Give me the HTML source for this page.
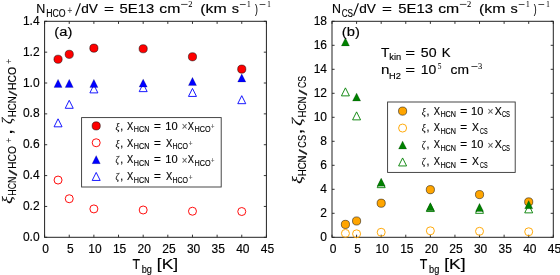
<!DOCTYPE html>
<html><head><meta charset="utf-8"><style>
html,body{margin:0;padding:0;background:#fff;width:560px;height:275px;overflow:hidden;}
svg{display:block;will-change:transform;}
</style></head><body>
<svg width="560" height="275" viewBox="0 0 560 275">
<style>text{font-family:"Liberation Sans",sans-serif;stroke:#000;stroke-width:0.15px;} .tk{stroke:#000;stroke-width:0.8;}</style>
<rect width="560" height="275" fill="#fff"/>
<line x1="44.60" y1="237.3" x2="44.60" y2="234.70000000000002" class="tk"/>
<line x1="44.60" y1="21.3" x2="44.60" y2="23.900000000000002" class="tk"/>
<text x="45.70" y="252.60" font-size="12" text-anchor="middle" fill="#000">0</text>
<line x1="69.24" y1="237.3" x2="69.24" y2="234.70000000000002" class="tk"/>
<line x1="69.24" y1="21.3" x2="69.24" y2="23.900000000000002" class="tk"/>
<text x="70.34" y="252.60" font-size="12" text-anchor="middle" fill="#000">5</text>
<line x1="93.89" y1="237.3" x2="93.89" y2="234.70000000000002" class="tk"/>
<line x1="93.89" y1="21.3" x2="93.89" y2="23.900000000000002" class="tk"/>
<text x="94.99" y="252.60" font-size="12" text-anchor="middle" fill="#000">10</text>
<line x1="118.53" y1="237.3" x2="118.53" y2="234.70000000000002" class="tk"/>
<line x1="118.53" y1="21.3" x2="118.53" y2="23.900000000000002" class="tk"/>
<text x="119.63" y="252.60" font-size="12" text-anchor="middle" fill="#000">15</text>
<line x1="143.18" y1="237.3" x2="143.18" y2="234.70000000000002" class="tk"/>
<line x1="143.18" y1="21.3" x2="143.18" y2="23.900000000000002" class="tk"/>
<text x="144.28" y="252.60" font-size="12" text-anchor="middle" fill="#000">20</text>
<line x1="167.82" y1="237.3" x2="167.82" y2="234.70000000000002" class="tk"/>
<line x1="167.82" y1="21.3" x2="167.82" y2="23.900000000000002" class="tk"/>
<text x="168.92" y="252.60" font-size="12" text-anchor="middle" fill="#000">25</text>
<line x1="192.47" y1="237.3" x2="192.47" y2="234.70000000000002" class="tk"/>
<line x1="192.47" y1="21.3" x2="192.47" y2="23.900000000000002" class="tk"/>
<text x="193.57" y="252.60" font-size="12" text-anchor="middle" fill="#000">30</text>
<line x1="217.11" y1="237.3" x2="217.11" y2="234.70000000000002" class="tk"/>
<line x1="217.11" y1="21.3" x2="217.11" y2="23.900000000000002" class="tk"/>
<text x="218.21" y="252.60" font-size="12" text-anchor="middle" fill="#000">35</text>
<line x1="241.76" y1="237.3" x2="241.76" y2="234.70000000000002" class="tk"/>
<line x1="241.76" y1="21.3" x2="241.76" y2="23.900000000000002" class="tk"/>
<text x="242.86" y="252.60" font-size="12" text-anchor="middle" fill="#000">40</text>
<line x1="266.40" y1="237.3" x2="266.40" y2="234.70000000000002" class="tk"/>
<line x1="266.40" y1="21.3" x2="266.40" y2="23.900000000000002" class="tk"/>
<text x="267.50" y="252.60" font-size="12" text-anchor="middle" fill="#000">45</text>
<line x1="44.6" y1="237.30" x2="47.2" y2="237.30" class="tk"/>
<line x1="266.4" y1="237.30" x2="263.79999999999995" y2="237.30" class="tk"/>
<text x="39.60" y="240.80" font-size="12" text-anchor="end" fill="#000">0.0</text>
<line x1="44.6" y1="206.44" x2="47.2" y2="206.44" class="tk"/>
<line x1="266.4" y1="206.44" x2="263.79999999999995" y2="206.44" class="tk"/>
<text x="39.60" y="209.94" font-size="12" text-anchor="end" fill="#000">0.2</text>
<line x1="44.6" y1="175.59" x2="47.2" y2="175.59" class="tk"/>
<line x1="266.4" y1="175.59" x2="263.79999999999995" y2="175.59" class="tk"/>
<text x="39.60" y="179.09" font-size="12" text-anchor="end" fill="#000">0.4</text>
<line x1="44.6" y1="144.73" x2="47.2" y2="144.73" class="tk"/>
<line x1="266.4" y1="144.73" x2="263.79999999999995" y2="144.73" class="tk"/>
<text x="39.60" y="148.23" font-size="12" text-anchor="end" fill="#000">0.6</text>
<line x1="44.6" y1="113.87" x2="47.2" y2="113.87" class="tk"/>
<line x1="266.4" y1="113.87" x2="263.79999999999995" y2="113.87" class="tk"/>
<text x="39.60" y="117.37" font-size="12" text-anchor="end" fill="#000">0.8</text>
<line x1="44.6" y1="83.01" x2="47.2" y2="83.01" class="tk"/>
<line x1="266.4" y1="83.01" x2="263.79999999999995" y2="83.01" class="tk"/>
<text x="39.60" y="86.51" font-size="12" text-anchor="end" fill="#000">1.0</text>
<line x1="44.6" y1="52.16" x2="47.2" y2="52.16" class="tk"/>
<line x1="266.4" y1="52.16" x2="263.79999999999995" y2="52.16" class="tk"/>
<text x="39.60" y="55.66" font-size="12" text-anchor="end" fill="#000">1.2</text>
<line x1="44.6" y1="21.30" x2="47.2" y2="21.30" class="tk"/>
<line x1="266.4" y1="21.30" x2="263.79999999999995" y2="21.30" class="tk"/>
<text x="39.60" y="24.80" font-size="12" text-anchor="end" fill="#000">1.4</text>
<rect x="44.6" y="21.3" width="221.80" height="216.00" fill="none" stroke="#222" stroke-width="1.0"/>
<path d="M58.06,118.82 L54.06,126.82 L62.06,126.82 Z" fill="none" stroke="#0000ff" stroke-width="0.9" stroke-linejoin="miter"/>
<path d="M69.24,100.31 L65.24,108.31 L73.24,108.31 Z" fill="none" stroke="#0000ff" stroke-width="0.9" stroke-linejoin="miter"/>
<path d="M93.89,84.88 L89.89,92.88 L97.89,92.88 Z" fill="none" stroke="#0000ff" stroke-width="0.9" stroke-linejoin="miter"/>
<path d="M143.18,83.64 L139.18,91.64 L147.18,91.64 Z" fill="none" stroke="#0000ff" stroke-width="0.9" stroke-linejoin="miter"/>
<path d="M192.47,88.43 L188.47,96.43 L196.47,96.43 Z" fill="none" stroke="#0000ff" stroke-width="0.9" stroke-linejoin="miter"/>
<path d="M241.76,95.68 L237.76,103.68 L245.76,103.68 Z" fill="none" stroke="#0000ff" stroke-width="0.9" stroke-linejoin="miter"/>
<circle cx="58.06" cy="180.06" r="3.9999999999999996" fill="none" stroke="#ff0000" stroke-width="0.95"/>
<circle cx="69.24" cy="198.73" r="3.9999999999999996" fill="none" stroke="#ff0000" stroke-width="0.95"/>
<circle cx="93.89" cy="208.91" r="3.9999999999999996" fill="none" stroke="#ff0000" stroke-width="0.95"/>
<circle cx="143.18" cy="209.99" r="3.9999999999999996" fill="none" stroke="#ff0000" stroke-width="0.95"/>
<circle cx="192.47" cy="211.23" r="3.9999999999999996" fill="none" stroke="#ff0000" stroke-width="0.95"/>
<circle cx="241.76" cy="211.53" r="3.9999999999999996" fill="none" stroke="#ff0000" stroke-width="0.95"/>
<circle cx="58.06" cy="59.25" r="4.1" fill="#ff0000" stroke="#000" stroke-width="0.5"/>
<circle cx="69.24" cy="54.32" r="4.1" fill="#ff0000" stroke="#000" stroke-width="0.5"/>
<circle cx="93.89" cy="48.15" r="4.1" fill="#ff0000" stroke="#000" stroke-width="0.5"/>
<circle cx="143.18" cy="48.76" r="4.1" fill="#ff0000" stroke="#000" stroke-width="0.5"/>
<circle cx="192.47" cy="56.79" r="4.1" fill="#ff0000" stroke="#000" stroke-width="0.5"/>
<circle cx="241.76" cy="69.13" r="4.1" fill="#ff0000" stroke="#000" stroke-width="0.5"/>
<path d="M58.06,79.22 L53.96,87.42 L62.16,87.42 Z" fill="#0000ff" stroke="#000" stroke-width="0.3" stroke-opacity="0.5"/>
<path d="M69.24,79.22 L65.14,87.42 L73.34,87.42 Z" fill="#0000ff" stroke="#000" stroke-width="0.3" stroke-opacity="0.5"/>
<path d="M93.89,79.22 L89.79,87.42 L97.99,87.42 Z" fill="#0000ff" stroke="#000" stroke-width="0.3" stroke-opacity="0.5"/>
<path d="M143.18,78.91 L139.08,87.11 L147.28,87.11 Z" fill="#0000ff" stroke="#000" stroke-width="0.3" stroke-opacity="0.5"/>
<path d="M192.47,77.37 L188.37,85.57 L196.57,85.57 Z" fill="#0000ff" stroke="#000" stroke-width="0.3" stroke-opacity="0.5"/>
<path d="M241.76,73.82 L237.66,82.02 L245.86,82.02 Z" fill="#0000ff" stroke="#000" stroke-width="0.3" stroke-opacity="0.5"/>
<line x1="332.00" y1="237.3" x2="332.00" y2="234.70000000000002" class="tk"/>
<line x1="332.00" y1="21.3" x2="332.00" y2="23.900000000000002" class="tk"/>
<text x="333.10" y="252.60" font-size="12" text-anchor="middle" fill="#000">0</text>
<line x1="356.59" y1="237.3" x2="356.59" y2="234.70000000000002" class="tk"/>
<line x1="356.59" y1="21.3" x2="356.59" y2="23.900000000000002" class="tk"/>
<text x="357.69" y="252.60" font-size="12" text-anchor="middle" fill="#000">5</text>
<line x1="381.18" y1="237.3" x2="381.18" y2="234.70000000000002" class="tk"/>
<line x1="381.18" y1="21.3" x2="381.18" y2="23.900000000000002" class="tk"/>
<text x="382.28" y="252.60" font-size="12" text-anchor="middle" fill="#000">10</text>
<line x1="405.77" y1="237.3" x2="405.77" y2="234.70000000000002" class="tk"/>
<line x1="405.77" y1="21.3" x2="405.77" y2="23.900000000000002" class="tk"/>
<text x="406.87" y="252.60" font-size="12" text-anchor="middle" fill="#000">15</text>
<line x1="430.36" y1="237.3" x2="430.36" y2="234.70000000000002" class="tk"/>
<line x1="430.36" y1="21.3" x2="430.36" y2="23.900000000000002" class="tk"/>
<text x="431.46" y="252.60" font-size="12" text-anchor="middle" fill="#000">20</text>
<line x1="454.94" y1="237.3" x2="454.94" y2="234.70000000000002" class="tk"/>
<line x1="454.94" y1="21.3" x2="454.94" y2="23.900000000000002" class="tk"/>
<text x="456.04" y="252.60" font-size="12" text-anchor="middle" fill="#000">25</text>
<line x1="479.53" y1="237.3" x2="479.53" y2="234.70000000000002" class="tk"/>
<line x1="479.53" y1="21.3" x2="479.53" y2="23.900000000000002" class="tk"/>
<text x="480.63" y="252.60" font-size="12" text-anchor="middle" fill="#000">30</text>
<line x1="504.12" y1="237.3" x2="504.12" y2="234.70000000000002" class="tk"/>
<line x1="504.12" y1="21.3" x2="504.12" y2="23.900000000000002" class="tk"/>
<text x="505.22" y="252.60" font-size="12" text-anchor="middle" fill="#000">35</text>
<line x1="528.71" y1="237.3" x2="528.71" y2="234.70000000000002" class="tk"/>
<line x1="528.71" y1="21.3" x2="528.71" y2="23.900000000000002" class="tk"/>
<text x="529.81" y="252.60" font-size="12" text-anchor="middle" fill="#000">40</text>
<line x1="553.30" y1="237.3" x2="553.30" y2="234.70000000000002" class="tk"/>
<line x1="553.30" y1="21.3" x2="553.30" y2="23.900000000000002" class="tk"/>
<text x="554.40" y="252.60" font-size="12" text-anchor="middle" fill="#000">45</text>
<line x1="332.0" y1="237.30" x2="334.6" y2="237.30" class="tk"/>
<line x1="553.3" y1="237.30" x2="550.6999999999999" y2="237.30" class="tk"/>
<text x="327.00" y="240.80" font-size="12" text-anchor="end" fill="#000">0</text>
<line x1="332.0" y1="213.30" x2="334.6" y2="213.30" class="tk"/>
<line x1="553.3" y1="213.30" x2="550.6999999999999" y2="213.30" class="tk"/>
<text x="327.00" y="216.80" font-size="12" text-anchor="end" fill="#000">2</text>
<line x1="332.0" y1="189.30" x2="334.6" y2="189.30" class="tk"/>
<line x1="553.3" y1="189.30" x2="550.6999999999999" y2="189.30" class="tk"/>
<text x="327.00" y="192.80" font-size="12" text-anchor="end" fill="#000">4</text>
<line x1="332.0" y1="165.30" x2="334.6" y2="165.30" class="tk"/>
<line x1="553.3" y1="165.30" x2="550.6999999999999" y2="165.30" class="tk"/>
<text x="327.00" y="168.80" font-size="12" text-anchor="end" fill="#000">6</text>
<line x1="332.0" y1="141.30" x2="334.6" y2="141.30" class="tk"/>
<line x1="553.3" y1="141.30" x2="550.6999999999999" y2="141.30" class="tk"/>
<text x="327.00" y="144.80" font-size="12" text-anchor="end" fill="#000">8</text>
<line x1="332.0" y1="117.30" x2="334.6" y2="117.30" class="tk"/>
<line x1="553.3" y1="117.30" x2="550.6999999999999" y2="117.30" class="tk"/>
<text x="327.00" y="120.80" font-size="12" text-anchor="end" fill="#000">10</text>
<line x1="332.0" y1="93.30" x2="334.6" y2="93.30" class="tk"/>
<line x1="553.3" y1="93.30" x2="550.6999999999999" y2="93.30" class="tk"/>
<text x="327.00" y="96.80" font-size="12" text-anchor="end" fill="#000">12</text>
<line x1="332.0" y1="69.30" x2="334.6" y2="69.30" class="tk"/>
<line x1="553.3" y1="69.30" x2="550.6999999999999" y2="69.30" class="tk"/>
<text x="327.00" y="72.80" font-size="12" text-anchor="end" fill="#000">14</text>
<line x1="332.0" y1="45.30" x2="334.6" y2="45.30" class="tk"/>
<line x1="553.3" y1="45.30" x2="550.6999999999999" y2="45.30" class="tk"/>
<text x="327.00" y="48.80" font-size="12" text-anchor="end" fill="#000">16</text>
<line x1="332.0" y1="21.30" x2="334.6" y2="21.30" class="tk"/>
<line x1="553.3" y1="21.30" x2="550.6999999999999" y2="21.30" class="tk"/>
<text x="327.00" y="24.80" font-size="12" text-anchor="end" fill="#000">18</text>
<rect x="332.0" y="21.3" width="221.30" height="216.00" fill="none" stroke="#222" stroke-width="1.0"/>
<circle cx="345.43" cy="233.40" r="3.9999999999999996" fill="none" stroke="#ffa500" stroke-width="0.95"/>
<circle cx="356.59" cy="233.82" r="3.9999999999999996" fill="none" stroke="#ffa500" stroke-width="0.95"/>
<circle cx="381.18" cy="232.26" r="3.9999999999999996" fill="none" stroke="#ffa500" stroke-width="0.95"/>
<circle cx="430.36" cy="230.82" r="3.9999999999999996" fill="none" stroke="#ffa500" stroke-width="0.95"/>
<circle cx="479.53" cy="231.30" r="3.9999999999999996" fill="none" stroke="#ffa500" stroke-width="0.95"/>
<circle cx="528.71" cy="231.78" r="3.9999999999999996" fill="none" stroke="#ffa500" stroke-width="0.95"/>
<path d="M345.43,87.86 L341.43,95.86 L349.43,95.86 Z" fill="none" stroke="#008000" stroke-width="0.9" stroke-linejoin="miter"/>
<path d="M356.59,111.86 L352.59,119.86 L360.59,119.86 Z" fill="none" stroke="#008000" stroke-width="0.9" stroke-linejoin="miter"/>
<path d="M381.18,179.66 L377.18,187.66 L385.18,187.66 Z" fill="none" stroke="#008000" stroke-width="0.9" stroke-linejoin="miter"/>
<path d="M430.36,203.54 L426.36,211.54 L434.36,211.54 Z" fill="none" stroke="#008000" stroke-width="0.9" stroke-linejoin="miter"/>
<path d="M479.53,205.34 L475.53,213.34 L483.53,213.34 Z" fill="none" stroke="#008000" stroke-width="0.9" stroke-linejoin="miter"/>
<path d="M528.71,204.86 L524.71,212.86 L532.71,212.86 Z" fill="none" stroke="#008000" stroke-width="0.9" stroke-linejoin="miter"/>
<circle cx="345.43" cy="224.40" r="4.1" fill="#ffa500" stroke="#000" stroke-width="0.5"/>
<circle cx="356.59" cy="220.98" r="4.1" fill="#ffa500" stroke="#000" stroke-width="0.5"/>
<circle cx="381.18" cy="203.22" r="4.1" fill="#ffa500" stroke="#000" stroke-width="0.5"/>
<circle cx="430.36" cy="189.66" r="4.1" fill="#ffa500" stroke="#000" stroke-width="0.5"/>
<circle cx="479.53" cy="194.58" r="4.1" fill="#ffa500" stroke="#000" stroke-width="0.5"/>
<circle cx="528.71" cy="201.90" r="4.1" fill="#ffa500" stroke="#000" stroke-width="0.5"/>
<path d="M345.43,37.72 L341.33,45.92 L349.53,45.92 Z" fill="#008000" stroke="#000" stroke-width="0.3" stroke-opacity="0.5"/>
<path d="M356.59,92.92 L352.49,101.12 L360.69,101.12 Z" fill="#008000" stroke="#000" stroke-width="0.3" stroke-opacity="0.5"/>
<path d="M381.18,178.00 L377.08,186.20 L385.28,186.20 Z" fill="#008000" stroke="#000" stroke-width="0.3" stroke-opacity="0.5"/>
<path d="M430.36,202.60 L426.26,210.80 L434.46,210.80 Z" fill="#008000" stroke="#000" stroke-width="0.3" stroke-opacity="0.5"/>
<path d="M479.53,203.32 L475.43,211.52 L483.63,211.52 Z" fill="#008000" stroke="#000" stroke-width="0.3" stroke-opacity="0.5"/>
<path d="M528.71,200.56 L524.61,208.76 L532.81,208.76 Z" fill="#008000" stroke="#000" stroke-width="0.3" stroke-opacity="0.5"/>
<text x="36.24" y="12.50" font-size="13" textLength="9.02" lengthAdjust="spacingAndGlyphs">N</text>
<text x="46.15" y="16.80" font-size="10" textLength="19.38" lengthAdjust="spacingAndGlyphs">HCO</text>
<text x="67.60" y="13.60" font-size="10" textLength="4.67" lengthAdjust="spacingAndGlyphs" fill="#555" style="stroke:#555">+</text>
<text x="81.18" y="12.50" font-size="13" textLength="16.69" lengthAdjust="spacingAndGlyphs">dV</text>
<text x="103.95" y="12.50" font-size="13" textLength="9.93" lengthAdjust="spacingAndGlyphs">=</text>
<text x="119.53" y="12.50" font-size="13" textLength="34.63" lengthAdjust="spacingAndGlyphs">5E13</text>
<text x="159.39" y="12.50" font-size="13" textLength="21.03" lengthAdjust="spacingAndGlyphs">cm</text>
<text x="188.34" y="6.80" font-size="8" textLength="4.23" lengthAdjust="spacingAndGlyphs" style="font-family:'Liberation Serif',serif;stroke-width:0.05px">2</text>
<text x="200.19" y="12.50" font-size="13" textLength="26.44" lengthAdjust="spacingAndGlyphs">(km</text>
<text x="231.72" y="12.50" font-size="13" textLength="7.23" lengthAdjust="spacingAndGlyphs">s</text>
<text x="247.12" y="6.60" font-size="8" textLength="3.64" lengthAdjust="spacingAndGlyphs" style="font-family:'Liberation Serif',serif;stroke-width:0.05px">1</text>
<text x="255.00" y="12.50" font-size="13" textLength="2.85" lengthAdjust="spacingAndGlyphs">)</text>
<text x="267.35" y="6.60" font-size="8" textLength="3.49" lengthAdjust="spacingAndGlyphs" style="font-family:'Liberation Serif',serif;stroke-width:0.05px">1</text>
<text x="332.10" y="12.50" font-size="13" textLength="8.95" lengthAdjust="spacingAndGlyphs">N</text>
<text x="341.64" y="16.80" font-size="10" textLength="11.39" lengthAdjust="spacingAndGlyphs">CS</text>
<text x="359.18" y="12.50" font-size="13" textLength="16.69" lengthAdjust="spacingAndGlyphs">dV</text>
<text x="381.95" y="12.50" font-size="13" textLength="9.93" lengthAdjust="spacingAndGlyphs">=</text>
<text x="398.33" y="12.50" font-size="13" textLength="34.63" lengthAdjust="spacingAndGlyphs">5E13</text>
<text x="438.19" y="12.50" font-size="13" textLength="21.03" lengthAdjust="spacingAndGlyphs">cm</text>
<text x="467.14" y="6.80" font-size="8" textLength="4.23" lengthAdjust="spacingAndGlyphs" style="font-family:'Liberation Serif',serif;stroke-width:0.05px">2</text>
<text x="478.99" y="12.50" font-size="13" textLength="26.44" lengthAdjust="spacingAndGlyphs">(km</text>
<text x="510.52" y="12.50" font-size="13" textLength="7.23" lengthAdjust="spacingAndGlyphs">s</text>
<text x="525.92" y="6.60" font-size="8" textLength="3.64" lengthAdjust="spacingAndGlyphs" style="font-family:'Liberation Serif',serif;stroke-width:0.05px">1</text>
<text x="533.80" y="12.50" font-size="13" textLength="2.85" lengthAdjust="spacingAndGlyphs">)</text>
<text x="546.15" y="6.60" font-size="8" textLength="3.49" lengthAdjust="spacingAndGlyphs" style="font-family:'Liberation Serif',serif;stroke-width:0.05px">1</text>
<text x="54.32" y="35.60" font-size="12.5" textLength="18.00" lengthAdjust="spacingAndGlyphs">(a)</text>
<text x="341.82" y="35.80" font-size="12.5" textLength="18.00" lengthAdjust="spacingAndGlyphs">(b)</text>
<text x="381.14" y="57.00" font-size="13" textLength="8.38" lengthAdjust="spacingAndGlyphs">T</text>
<text x="389.39" y="60.40" font-size="9" textLength="11.84" lengthAdjust="spacingAndGlyphs">kin</text>
<text x="405.35" y="57.00" font-size="13" textLength="9.81" lengthAdjust="spacingAndGlyphs">=</text>
<text x="420.86" y="57.00" font-size="13" textLength="15.75" lengthAdjust="spacingAndGlyphs">50</text>
<text x="441.79" y="57.00" font-size="13" textLength="8.79" lengthAdjust="spacingAndGlyphs">K</text>
<text x="381.13" y="74.30" font-size="13" textLength="8.43" lengthAdjust="spacingAndGlyphs">n</text>
<text x="389.13" y="78.60" font-size="9" textLength="11.84" lengthAdjust="spacingAndGlyphs">H2</text>
<text x="405.35" y="74.30" font-size="13" textLength="9.81" lengthAdjust="spacingAndGlyphs">=</text>
<text x="420.82" y="74.30" font-size="13" textLength="15.58" lengthAdjust="spacingAndGlyphs">10</text>
<text x="437.84" y="68.90" font-size="8" textLength="3.69" lengthAdjust="spacingAndGlyphs" style="font-family:'Liberation Serif',serif;stroke-width:0.05px">5</text>
<text x="450.47" y="74.30" font-size="13" textLength="18.43" lengthAdjust="spacingAndGlyphs">cm</text>
<text x="478.04" y="69.00" font-size="8" textLength="4.23" lengthAdjust="spacingAndGlyphs" style="font-family:'Liberation Serif',serif;stroke-width:0.05px">3</text>
<text x="132.50" y="269.20" font-size="15.5" textLength="7.57" lengthAdjust="spacingAndGlyphs">T</text>
<text x="141.76" y="272.90" font-size="10.5" textLength="10.24" lengthAdjust="spacingAndGlyphs">bg</text>
<text x="156.84" y="269.00" font-size="15" textLength="21.34" lengthAdjust="spacingAndGlyphs">[K]</text>
<text x="419.85" y="269.20" font-size="15.5" textLength="7.57" lengthAdjust="spacingAndGlyphs">T</text>
<text x="429.11" y="272.90" font-size="10.5" textLength="10.24" lengthAdjust="spacingAndGlyphs">bg</text>
<text x="444.19" y="269.00" font-size="15" textLength="21.34" lengthAdjust="spacingAndGlyphs">[K]</text>
<text x="115.48" y="129.60" font-size="11.0" textLength="4.09" lengthAdjust="spacingAndGlyphs" font-style="italic" style="font-family:'Liberation Serif',serif;stroke-width:0.1px">ξ</text>
<text x="120.20" y="129.60" font-size="10.5" textLength="2.92" lengthAdjust="spacingAndGlyphs">,</text>
<text x="127.08" y="129.60" font-size="10.5" textLength="6.26" lengthAdjust="spacingAndGlyphs">X</text>
<text x="133.82" y="132.20" font-size="9.3" textLength="15.48" lengthAdjust="spacingAndGlyphs">HCN</text>
<text x="153.99" y="129.60" font-size="10.5" textLength="6.84" lengthAdjust="spacingAndGlyphs">=</text>
<text x="165.31" y="129.60" font-size="10.5" textLength="12.36" lengthAdjust="spacingAndGlyphs">10</text>
<text x="181.64" y="130.40" font-size="11" textLength="5.66" lengthAdjust="spacingAndGlyphs" fill="#555" style="stroke:#555">×</text>
<text x="187.78" y="129.60" font-size="10.5" textLength="6.15" lengthAdjust="spacingAndGlyphs">X</text>
<text x="194.47" y="132.20" font-size="9.3" textLength="16.06" lengthAdjust="spacingAndGlyphs">HCO</text>
<text x="211.09" y="129.20" font-size="7" textLength="3.39" lengthAdjust="spacingAndGlyphs" fill="#555" style="stroke:#555">+</text>
<text x="115.48" y="146.50" font-size="11.0" textLength="4.09" lengthAdjust="spacingAndGlyphs" font-style="italic" style="font-family:'Liberation Serif',serif;stroke-width:0.1px">ξ</text>
<text x="120.20" y="146.50" font-size="10.5" textLength="2.92" lengthAdjust="spacingAndGlyphs">,</text>
<text x="127.08" y="146.50" font-size="10.5" textLength="6.26" lengthAdjust="spacingAndGlyphs">X</text>
<text x="133.82" y="149.10" font-size="9.3" textLength="15.48" lengthAdjust="spacingAndGlyphs">HCN</text>
<text x="153.99" y="146.50" font-size="10.5" textLength="6.84" lengthAdjust="spacingAndGlyphs">=</text>
<text x="165.88" y="146.50" font-size="10.5" textLength="6.31" lengthAdjust="spacingAndGlyphs">X</text>
<text x="172.43" y="149.10" font-size="9.3" textLength="15.58" lengthAdjust="spacingAndGlyphs">HCO</text>
<text x="188.67" y="146.10" font-size="7" textLength="3.74" lengthAdjust="spacingAndGlyphs" fill="#555" style="stroke:#555">+</text>
<text x="115.50" y="163.40" font-size="11.0" textLength="3.47" lengthAdjust="spacingAndGlyphs" font-style="italic" style="font-family:'Liberation Serif',serif;stroke-width:0.1px">ζ</text>
<text x="120.20" y="163.40" font-size="10.5" textLength="2.92" lengthAdjust="spacingAndGlyphs">,</text>
<text x="127.08" y="163.40" font-size="10.5" textLength="6.26" lengthAdjust="spacingAndGlyphs">X</text>
<text x="133.82" y="166.00" font-size="9.3" textLength="15.48" lengthAdjust="spacingAndGlyphs">HCN</text>
<text x="153.99" y="163.40" font-size="10.5" textLength="6.84" lengthAdjust="spacingAndGlyphs">=</text>
<text x="165.31" y="163.40" font-size="10.5" textLength="12.36" lengthAdjust="spacingAndGlyphs">10</text>
<text x="181.64" y="164.20" font-size="11" textLength="5.66" lengthAdjust="spacingAndGlyphs" fill="#555" style="stroke:#555">×</text>
<text x="187.78" y="163.40" font-size="10.5" textLength="6.15" lengthAdjust="spacingAndGlyphs">X</text>
<text x="194.47" y="166.00" font-size="9.3" textLength="16.06" lengthAdjust="spacingAndGlyphs">HCO</text>
<text x="211.09" y="163.00" font-size="7" textLength="3.39" lengthAdjust="spacingAndGlyphs" fill="#555" style="stroke:#555">+</text>
<text x="115.50" y="180.30" font-size="11.0" textLength="3.47" lengthAdjust="spacingAndGlyphs" font-style="italic" style="font-family:'Liberation Serif',serif;stroke-width:0.1px">ζ</text>
<text x="120.20" y="180.30" font-size="10.5" textLength="2.92" lengthAdjust="spacingAndGlyphs">,</text>
<text x="127.08" y="180.30" font-size="10.5" textLength="6.26" lengthAdjust="spacingAndGlyphs">X</text>
<text x="133.82" y="182.90" font-size="9.3" textLength="15.48" lengthAdjust="spacingAndGlyphs">HCN</text>
<text x="153.99" y="180.30" font-size="10.5" textLength="6.84" lengthAdjust="spacingAndGlyphs">=</text>
<text x="165.88" y="180.30" font-size="10.5" textLength="6.31" lengthAdjust="spacingAndGlyphs">X</text>
<text x="172.43" y="182.90" font-size="9.3" textLength="15.58" lengthAdjust="spacingAndGlyphs">HCO</text>
<text x="188.67" y="179.90" font-size="7" textLength="3.74" lengthAdjust="spacingAndGlyphs" fill="#555" style="stroke:#555">+</text>
<text x="421.78" y="114.50" font-size="11.0" textLength="4.09" lengthAdjust="spacingAndGlyphs" font-style="italic" style="font-family:'Liberation Serif',serif;stroke-width:0.1px">ξ</text>
<text x="426.50" y="114.50" font-size="10.5" textLength="2.92" lengthAdjust="spacingAndGlyphs">,</text>
<text x="433.78" y="114.50" font-size="10.5" textLength="6.26" lengthAdjust="spacingAndGlyphs">X</text>
<text x="440.42" y="117.10" font-size="9.3" textLength="15.59" lengthAdjust="spacingAndGlyphs">HCN</text>
<text x="460.15" y="114.50" font-size="10.5" textLength="6.78" lengthAdjust="spacingAndGlyphs">=</text>
<text x="471.11" y="114.50" font-size="10.5" textLength="12.24" lengthAdjust="spacingAndGlyphs">10</text>
<text x="487.61" y="115.30" font-size="11" textLength="5.92" lengthAdjust="spacingAndGlyphs" fill="#555" style="stroke:#555">×</text>
<text x="494.85" y="114.50" font-size="10.5" textLength="7.02" lengthAdjust="spacingAndGlyphs">X</text>
<text x="501.89" y="117.10" font-size="9.3" textLength="8.08" lengthAdjust="spacingAndGlyphs">CS</text>
<text x="421.78" y="131.33" font-size="11.0" textLength="4.09" lengthAdjust="spacingAndGlyphs" font-style="italic" style="font-family:'Liberation Serif',serif;stroke-width:0.1px">ξ</text>
<text x="426.50" y="131.33" font-size="10.5" textLength="2.92" lengthAdjust="spacingAndGlyphs">,</text>
<text x="433.78" y="131.33" font-size="10.5" textLength="6.26" lengthAdjust="spacingAndGlyphs">X</text>
<text x="440.42" y="133.93" font-size="9.3" textLength="15.59" lengthAdjust="spacingAndGlyphs">HCN</text>
<text x="460.15" y="131.33" font-size="10.5" textLength="6.78" lengthAdjust="spacingAndGlyphs">=</text>
<text x="472.05" y="131.33" font-size="10.5" textLength="6.91" lengthAdjust="spacingAndGlyphs">X</text>
<text x="480.01" y="133.93" font-size="9.3" textLength="7.54" lengthAdjust="spacingAndGlyphs">CS</text>
<text x="421.81" y="148.16" font-size="11.0" textLength="3.47" lengthAdjust="spacingAndGlyphs" font-style="italic" style="font-family:'Liberation Serif',serif;stroke-width:0.1px">ζ</text>
<text x="426.50" y="148.16" font-size="10.5" textLength="2.92" lengthAdjust="spacingAndGlyphs">,</text>
<text x="433.78" y="148.16" font-size="10.5" textLength="6.26" lengthAdjust="spacingAndGlyphs">X</text>
<text x="440.42" y="150.76" font-size="9.3" textLength="15.59" lengthAdjust="spacingAndGlyphs">HCN</text>
<text x="460.15" y="148.16" font-size="10.5" textLength="6.78" lengthAdjust="spacingAndGlyphs">=</text>
<text x="471.11" y="148.16" font-size="10.5" textLength="12.24" lengthAdjust="spacingAndGlyphs">10</text>
<text x="487.61" y="148.96" font-size="11" textLength="5.92" lengthAdjust="spacingAndGlyphs" fill="#555" style="stroke:#555">×</text>
<text x="494.85" y="148.16" font-size="10.5" textLength="7.02" lengthAdjust="spacingAndGlyphs">X</text>
<text x="501.89" y="150.76" font-size="9.3" textLength="8.08" lengthAdjust="spacingAndGlyphs">CS</text>
<text x="421.81" y="164.99" font-size="11.0" textLength="3.47" lengthAdjust="spacingAndGlyphs" font-style="italic" style="font-family:'Liberation Serif',serif;stroke-width:0.1px">ζ</text>
<text x="426.50" y="164.99" font-size="10.5" textLength="2.92" lengthAdjust="spacingAndGlyphs">,</text>
<text x="433.78" y="164.99" font-size="10.5" textLength="6.26" lengthAdjust="spacingAndGlyphs">X</text>
<text x="440.42" y="167.59" font-size="9.3" textLength="15.59" lengthAdjust="spacingAndGlyphs">HCN</text>
<text x="460.15" y="164.99" font-size="10.5" textLength="6.78" lengthAdjust="spacingAndGlyphs">=</text>
<text x="472.05" y="164.99" font-size="10.5" textLength="6.91" lengthAdjust="spacingAndGlyphs">X</text>
<text x="480.01" y="167.59" font-size="9.3" textLength="7.54" lengthAdjust="spacingAndGlyphs">CS</text>
<rect x="181.10" y="3.95" width="6.50" height="0.7" fill="#000"/>
<rect x="239.90" y="4.05" width="5.80" height="0.7" fill="#000"/>
<rect x="259.60" y="4.05" width="5.80" height="0.7" fill="#000"/>
<rect x="459.90" y="3.95" width="6.50" height="0.7" fill="#000"/>
<rect x="518.70" y="4.05" width="5.80" height="0.7" fill="#000"/>
<rect x="538.40" y="4.05" width="5.80" height="0.7" fill="#000"/>
<rect x="471.40" y="66.15" width="6.10" height="0.7" fill="#000"/>
<line x1="80.4" y1="3.3" x2="75.6" y2="15.7" stroke="#000" stroke-width="1.05"/>
<line x1="358.4" y1="3.3" x2="353.6" y2="15.7" stroke="#000" stroke-width="1.05"/>
<rect x="81.6" y="117.6" width="139.6" height="69.4" fill="none" stroke="#333" stroke-width="0.9"/>
<rect x="387.6" y="102.0" width="127.6" height="70.4" fill="none" stroke="#333" stroke-width="0.9"/>
<circle cx="96.20" cy="125.90" r="4.1" fill="#ff0000" stroke="#000" stroke-width="0.5"/>
<circle cx="96.20" cy="142.75" r="3.9999999999999996" fill="none" stroke="#ff0000" stroke-width="0.95"/>
<path d="M96.20,155.50 L92.10,163.70 L100.30,163.70 Z" fill="#0000ff" stroke="#000" stroke-width="0.3" stroke-opacity="0.5"/>
<path d="M96.20,172.45 L92.20,180.45 L100.20,180.45 Z" fill="none" stroke="#0000ff" stroke-width="0.9" stroke-linejoin="miter"/>
<circle cx="402.60" cy="111.10" r="4.1" fill="#ffa500" stroke="#000" stroke-width="0.5"/>
<circle cx="402.60" cy="128.05" r="3.9999999999999996" fill="none" stroke="#ffa500" stroke-width="0.95"/>
<path d="M402.60,140.90 L398.50,149.10 L406.70,149.10 Z" fill="#008000" stroke="#000" stroke-width="0.3" stroke-opacity="0.5"/>
<path d="M402.60,157.95 L398.60,165.95 L406.60,165.95 Z" fill="none" stroke="#008000" stroke-width="0.9" stroke-linejoin="miter"/>
<g transform="translate(11.5,203.5) rotate(-90)">
<text x="-0.29" y="0.00" font-size="15" textLength="7.62" lengthAdjust="spacingAndGlyphs" font-style="italic" style="font-family:'Liberation Serif',serif;stroke-width:0.1px">ξ</text>
<text x="7.87" y="4.20" font-size="10.5" textLength="19.06" lengthAdjust="spacingAndGlyphs">HCN</text>
<text x="27.50" y="5.00" font-size="11.5" textLength="6.41" lengthAdjust="spacingAndGlyphs" fill="#222" style="stroke:#222">/</text>
<text x="34.67" y="4.20" font-size="10.5" textLength="22.66" lengthAdjust="spacingAndGlyphs">HCO</text>
<text x="61.08" y="0.40" font-size="9" textLength="4.45" lengthAdjust="spacingAndGlyphs" fill="#333" style="stroke:#333">+</text>
<text x="68.40" y="0.30" font-size="18" textLength="6.02" lengthAdjust="spacingAndGlyphs">,</text>
<text x="79.60" y="0.00" font-size="15" textLength="6.08" lengthAdjust="spacingAndGlyphs" font-style="italic" style="font-family:'Liberation Serif',serif;stroke-width:0.1px">ζ</text>
<text x="86.32" y="4.20" font-size="10.5" textLength="20.77" lengthAdjust="spacingAndGlyphs">HCN</text>
<text x="107.20" y="5.00" font-size="11.5" textLength="5.52" lengthAdjust="spacingAndGlyphs" fill="#222" style="stroke:#222">/</text>
<text x="113.56" y="4.20" font-size="10.5" textLength="23.08" lengthAdjust="spacingAndGlyphs">HCO</text>
<text x="140.08" y="0.40" font-size="9" textLength="4.45" lengthAdjust="spacingAndGlyphs" fill="#333" style="stroke:#333">+</text>
</g>
<g transform="translate(301.5,183.5) rotate(-90)">
<text x="-0.28" y="0.00" font-size="15" textLength="7.51" lengthAdjust="spacingAndGlyphs" font-style="italic" style="font-family:'Liberation Serif',serif;stroke-width:0.1px">ξ</text>
<text x="7.21" y="4.20" font-size="10.5" textLength="20.88" lengthAdjust="spacingAndGlyphs">HCN</text>
<text x="28.60" y="5.00" font-size="11.5" textLength="5.91" lengthAdjust="spacingAndGlyphs" fill="#222" style="stroke:#222">/</text>
<text x="35.86" y="4.20" font-size="10.5" textLength="12.74" lengthAdjust="spacingAndGlyphs">CS</text>
<text x="49.10" y="0.30" font-size="18" textLength="6.02" lengthAdjust="spacingAndGlyphs">,</text>
<text x="57.68" y="0.00" font-size="15" textLength="7.57" lengthAdjust="spacingAndGlyphs" font-style="italic" style="font-family:'Liberation Serif',serif;stroke-width:0.1px">ζ</text>
<text x="66.11" y="4.20" font-size="10.5" textLength="20.98" lengthAdjust="spacingAndGlyphs">HCN</text>
<text x="88.00" y="5.00" font-size="11.5" textLength="5.91" lengthAdjust="spacingAndGlyphs" fill="#222" style="stroke:#222">/</text>
<text x="95.39" y="4.20" font-size="10.5" textLength="12.10" lengthAdjust="spacingAndGlyphs">CS</text>
</g>
</svg>
</body></html>
